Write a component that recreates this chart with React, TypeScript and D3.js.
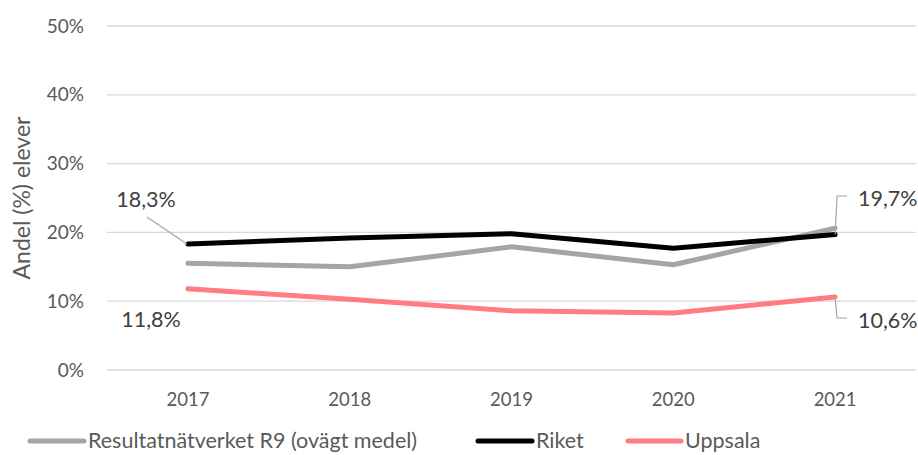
import React from "react";
import * as d3 from "d3";

const years = ["2017", "2018", "2019", "2020", "2021"];
const seriesNames = ["Resultatnätverket R9 (ovägt medel)", "Riket", "Uppsala"];
const r9Values = [15.5, 15.0, 17.9, 15.3, 20.6];
const riketValues = [18.3, 19.2, 19.8, 17.7, 19.7];
const uppsalaValues = [11.8, 10.3, 8.6, 8.3, 10.6];
const yTicks = [0, 10, 20, 30, 40, 50];
const colors = ["#A5A5A5", "#000000", "#FF7C80"];

const W = 918, H = 455;
const left = 107, right = 916, top = 26, bottom = 370;
const FONT = "Lato, 'Open Sans', sans-serif";

export default function App() {
  const x = d3.scaleBand<string>().domain(years).range([left, right]).padding(0);
  const y = d3.scaleLinear().domain([0, 50]).range([bottom, top]);
  const cx = (yr: string) => (x(yr) as number) + x.bandwidth() / 2;
  const line = d3.line<number>().x((_, i) => cx(years[i])).y((d) => y(d));
  const all = [r9Values, riketValues, uppsalaValues];
  const fmt = (v: number) => v.toFixed(1).replace(".", ",") + "%";

  const x0 = cx(years[0]);
  const x4 = cx(years[4]);

  const legendItems = [
    { lx: 30, tx: 88 },
    { lx: 478, tx: 536 },
    { lx: 628, tx: 685 },
  ];

  return (
    <svg width={W} height={H} style={{ position: "absolute", left: 0, top: 0, background: "#fff" }} fontFamily={FONT}>
      {yTicks.map((t) => (
        <g key={t}>
          <line x1={left} x2={right} y1={y(t)} y2={y(t)} stroke="#D9D9D9" strokeWidth={1.3} />
          <text x={84} y={y(t)} dy="0.35em" textAnchor="end" fontSize={19} fill="#595959">{t}%</text>
        </g>
      ))}
      {years.map((yr) => (
        <text key={yr} x={cx(yr)} y={400} dy="0.35em" textAnchor="middle" fontSize={18.5} fill="#595959">{yr}</text>
      ))}
      <text transform={`translate(22,${(top + bottom) / 2}) rotate(-90)`} textAnchor="middle" dy="0.35em" fontSize={23} fill="#595959">Andel (%) elever</text>

      {all.map((vals, i) => (
        <path key={i} d={line(vals) as string} fill="none" stroke={colors[i]} strokeWidth={5} strokeLinejoin="round" strokeLinecap="round" />
      ))}

      {/* data labels with leader lines */}
      <polyline points={`${x0 - 1},${y(riketValues[0])} ${x0 - 41},${y(riketValues[0]) - 27}`} fill="none" stroke="#A6A6A6" strokeWidth={1.2} />
      <text x={146} y={199.5} dy="0.35em" textAnchor="middle" fontSize={21.5} fill="#404040">{fmt(riketValues[0])}</text>
      <text x={151} y={319.5} dy="0.35em" textAnchor="middle" fontSize={21.5} fill="#404040">{fmt(uppsalaValues[0])}</text>

      <polyline points={`${x4},${y(riketValues[4])} ${x4 + 2},196 ${x4 + 12},196`} fill="none" stroke="#A6A6A6" strokeWidth={1.2} />
      <text x={858} y={198} dy="0.35em" textAnchor="start" fontSize={21.5} fill="#404040">{fmt(riketValues[4])}</text>
      <polyline points={`${x4},${y(uppsalaValues[4])} ${x4 + 2},318 ${x4 + 12},318`} fill="none" stroke="#A6A6A6" strokeWidth={1.2} />
      <text x={858} y={320} dy="0.35em" textAnchor="start" fontSize={21.5} fill="#404040">{fmt(uppsalaValues[4])}</text>

      {seriesNames.map((name, i) => (
        <g key={name}>
          <line x1={legendItems[i].lx} x2={legendItems[i].tx - 4} y1={441} y2={441} stroke={colors[i]} strokeWidth={5} strokeLinecap="round" />
          <text x={legendItems[i].tx} y={440} dy="0.35em" fontSize={21.5} fill="#595959">{name}</text>
        </g>
      ))}
    </svg>
  );
}
